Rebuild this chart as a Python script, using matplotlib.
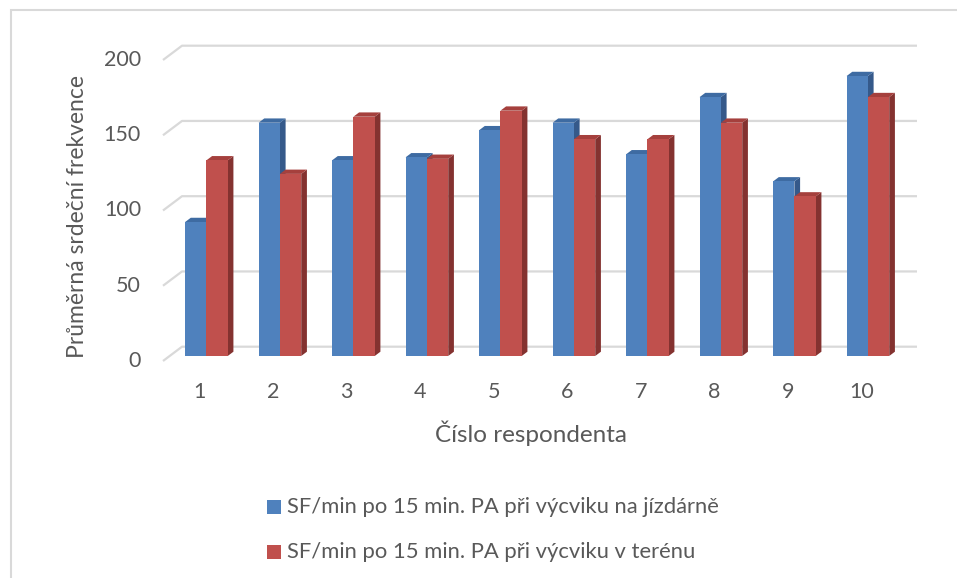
import matplotlib
matplotlib.use("Agg")
import matplotlib.pyplot as plt
from matplotlib.patches import Polygon, Rectangle

plt.rcParams['font.family'] = ['Lato', 'DejaVu Sans']

categories = ['1', '2', '3', '4', '5', '6', '7', '8', '9', '10']
series_names = ['SF/min po 15 min. PA při výcviku na jízdárně',
                'SF/min po 15 min. PA při výcviku v terénu']
values_arena = [89, 155, 130, 132, 150, 155, 134, 172, 116, 186]
values_field = [130, 121, 159, 131, 163, 144, 144, 155, 106, 172]
yticks = [0, 50, 100, 150, 200]

front_cols = ['#4F81BD', '#C0504D']
top_cols = ['#3E6BA2', '#A5403D']
side_cols = ['#35598A', '#843230']
grid_col = '#D9D9D9'
text_col = '#595959'

W, H = 957, 578
fig = plt.figure(figsize=(W / 100, H / 100), dpi=100)

# axes region in pixels
px_left, px_right, px_bottom, px_top = 163, 917, 361, 45
ax = fig.add_axes([px_left / W, 1 - px_bottom / H,
                   (px_right - px_left) / W, (px_bottom - px_top) / H])
cat_px = 73.5
val_px = 1.505
xmin = 0.5
xmax = xmin + (px_right - px_left) / cat_px
ymax = (px_bottom - px_top) / val_px
ax.set_xlim(xmin, xmax)
ax.set_ylim(0, ymax)
ax.axis('off')

DX = 19 / cat_px
DY = 14.3 / val_px
x_front_right = len(categories) + 0.5


def P(x, y, d):
    return (x + d * DX, y + d * DY)


# gridlines (left wall diagonal + back wall line)
for v in yticks:
    ax.plot([xmin, xmin + DX, x_front_right + DX], [v, v + DY, v + DY],
            color=grid_col, lw=1.6, zorder=1, clip_on=False,
            solid_capstyle='butt')
    ax.text(xmin - 22 / cat_px, v, str(v), ha='right', va='center',
            fontsize=15.5, color=text_col)

bw = 0.29
d0, d1 = 0.35, 0.65
series = [values_arena, values_field]
for i, cat in enumerate(categories):
    c = i + 1
    for s, vals in enumerate(series):
        h = vals[i]
        xl = c - bw + s * bw
        xr = xl + bw
        z = 3 + i * 2 + s
        front = [P(xl, 0, d0), P(xl, h, d0), P(xr, h, d0), P(xr, 0, d0)]
        top = [P(xl, h, d0), P(xl, h, d1), P(xr, h, d1), P(xr, h, d0)]
        side = [P(xr, 0, d0), P(xr, h, d0), P(xr, h, d1), P(xr, 0, d1)]
        ax.add_patch(Polygon(side, closed=True, fc=side_cols[s], ec='none',
                             zorder=z, clip_on=False))
        ax.add_patch(Polygon(top, closed=True, fc=top_cols[s], ec='none',
                             zorder=z, clip_on=False))
        ax.add_patch(Polygon(front, closed=True, fc=front_cols[s], ec='none',
                             zorder=z + 0.5, clip_on=False))
    ax.text(c, -31 / val_px, cat, ha='center', va='center', fontsize=15.5,
            color=text_col)

# axis titles
fig.text(531 / W, 1 - 433 / H, 'Číslo respondenta', ha='center', va='center',
         fontsize=17.5, color=text_col)
fig.text(78 / W, 1 - 216 / H, 'Průměrná srdeční frekvence', ha='center',
         va='center', rotation=90, fontsize=16.5, color=text_col)

# legend
leg_y = [507, 552]
for s in range(2):
    fig.patches.append(Rectangle((267 / W, 1 - (leg_y[s] + 7) / H), 14 / W, 14 / H,
                                 transform=fig.transFigure, fc=front_cols[s],
                                 ec='none'))
    fig.text(287 / W, 1 - leg_y[s] / H, series_names[s], ha='left',
             va='center', fontsize=15.8, color=text_col)

# chart border
fig.patches.append(Rectangle((10.5 / W, -0.1), 2, 1 - 10.5 / H + 0.1,
                             transform=fig.transFigure, fill=False,
                             ec='#D9D9D9', lw=1.5))

fig.savefig('out.png', dpi=100)
